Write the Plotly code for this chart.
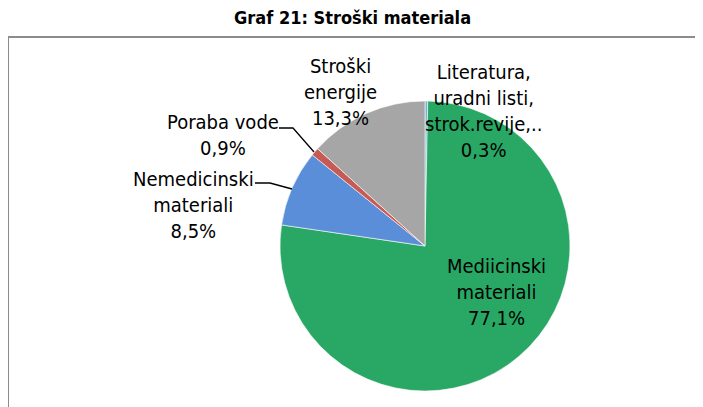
import plotly.graph_objects as go

W, H = 703, 407
OFF = 8  # default page body margin shifts the figure by 8px

categories = ["Literatura, uradni listi, strok.revije,..", "Mediicinski materiali",
              "Nemedicinski materiali", "Poraba vode", "Stroški energije"]
label_lines = ["Literatura,<br>uradni listi,<br>strok.revije,..", "Mediicinski<br>materiali",
               "Nemedicinski<br>materiali", "Poraba vode", "Stroški<br>energije"]
values = [0.3, 77.1, 8.5, 0.9, 13.3]
colors = ["#6FB3D6", "#28A864", "#5B8ED8", "#C65B55", "#A6A6A6"]

FONT = "DejaVu Sans Condensed, Liberation Sans Narrow, Arial Narrow, sans-serif"

# pie geometry (pixels in the screenshot)
cx, cy, r = 425, 246, 145


def px(x, y):
    return (x - OFF) / W, (H - (y - OFF)) / H


fig = go.Figure(go.Pie(
    labels=categories, values=values, sort=False, direction="clockwise", rotation=0,
    marker=dict(colors=colors, line=dict(color="white", width=0.6)),
    textinfo="none", hoverinfo="label+percent", showlegend=False,
    domain=dict(x=[px(cx - r, 0)[0], px(cx + r, 0)[0]],
                y=[px(0, cy + r)[1], px(0, cy - r)[1]]),
))

# label positions (pixel centres)
label_pos = [(483, 111), (497, 292), (193, 205), (223, 135), (340, 92)]
anns = []
for i, (name, v) in enumerate(zip(label_lines, values)):
    pct = f"{v:.1f}".replace(".", ",") + "%"
    text = f"{name}<br>{pct}"
    x, y = px(*label_pos[i])
    anns.append(dict(x=x, y=y, xref="paper", yref="paper", text=text, showarrow=False,
                     font=dict(family=FONT, size=20, color="black"), align="center",
                     xanchor="center", yanchor="middle"))

tx, ty = px(352, 17)
anns.append(dict(x=tx, y=ty, xref="paper", yref="paper",
                 text="<b>Graf 21: Stroški materiala</b>", showarrow=False,
                 font=dict(family=FONT, size=18, color="black"),
                 xanchor="center", yanchor="middle"))


def path(points):
    p = []
    for j, (x, y) in enumerate(points):
        xx, yy = px(x, y)
        p.append(("M" if j == 0 else "L") + f"{xx},{yy}")
    return " ".join(p)


bx0, by1 = px(8, 37)
shapes = [
    dict(type="rect", xref="paper", yref="paper", x0=bx0, x1=1.1, y0=-0.1, y1=by1,
         line=dict(color="#8C8C8C", width=2), fillcolor="rgba(0,0,0,0)", layer="below"),
    dict(type="path", xref="paper", yref="paper", path=path([(279, 128), (293, 128), (314, 152)]),
         line=dict(color="black", width=1.3)),
    dict(type="path", xref="paper", yref="paper", path=path([(255, 183), (270, 183), (292, 189)]),
         line=dict(color="black", width=1.3)),
]

fig.update_layout(
    width=W, height=H, margin=dict(l=0, r=0, t=0, b=0),
    paper_bgcolor="white", plot_bgcolor="white",
    annotations=anns, shapes=shapes,
)

fig.write_html("out.html")
